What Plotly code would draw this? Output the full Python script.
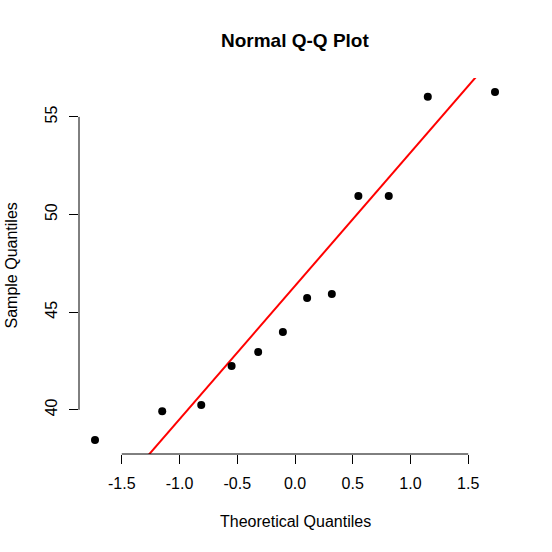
import plotly.graph_objects as go
from statistics import NormalDist
import numpy as np

# Data
theoretical = [-1.732, -1.150, -0.812, -0.549, -0.319, -0.105,
               0.105, 0.319, 0.549, 0.812, 1.150, 1.732]
sample = [38.45, 39.93, 40.24, 42.24, 42.96, 43.98,
          45.72, 45.93, 50.95, 50.95, 56.03, 56.28]
x_ticks = [-1.5, -1.0, -0.5, 0.0, 0.5, 1.0, 1.5]
x_tick_labels = ["-1.5", "-1.0", "-0.5", "0.0", "0.5", "1.0", "1.5"]
y_ticks = [40, 45, 50, 55]
y_tick_labels = ["40", "45", "50", "55"]

# qqline through 1st and 3rd quartiles
q1, q3 = np.quantile(sample, [0.25, 0.75])
z1, z3 = NormalDist().inv_cdf(0.25), NormalDist().inv_cdf(0.75)
slope = (q3 - q1) / (z3 - z1)
intercept = q1 - slope * z1

# R-style 4% axis extension
def ext(vals):
    lo, hi = min(vals), max(vals)
    d = (hi - lo) * 0.04
    return [lo - d, hi + d]

xr = ext(theoretical)
yr = ext(sample)
line_x = [xr[0] - 1, xr[1] + 1]
line_y = [intercept + slope * v for v in line_x]

FONT = "Liberation Sans, Arial, sans-serif"

fig = go.Figure()
fig.add_trace(go.Scatter(x=line_x, y=line_y, mode="lines",
                         line=dict(color="#FF0000", width=2),
                         hoverinfo="skip", showlegend=False))
fig.add_trace(go.Scatter(x=theoretical, y=sample, mode="markers",
                         marker=dict(color="black", size=8),
                         showlegend=False))

fig.update_layout(
    width=552, height=552,
    margin=dict(l=79, r=41, t=78, b=98),
    paper_bgcolor="white", plot_bgcolor="white",
    font=dict(family=FONT, size=16, color="black"),
    showlegend=False,
    xaxis=dict(range=xr, tickvals=x_ticks, ticktext=x_tick_labels,
               ticks="outside", ticklen=9, tickwidth=1, tickcolor="black",
               showgrid=False, zeroline=False, showline=False,
               ticklabelstandoff=6,
               tickfont=dict(family=FONT, size=16, color="black")),
    yaxis=dict(range=yr, tickvals=y_ticks, ticktext=y_tick_labels,
               ticks="outside", ticklen=9, tickwidth=1, tickcolor="black",
               showgrid=False, zeroline=False, showline=False,
               tickangle=-90, ticklabelstandoff=6,
               tickfont=dict(family=FONT, size=16, color="black")),
    shapes=[
        dict(type="line", xref="x", yref="paper", x0=x_ticks[0], x1=x_ticks[-1],
             y0=0, y1=0, line=dict(color="black", width=1)),
        dict(type="line", xref="paper", yref="y", x0=0, x1=0,
             y0=y_ticks[0], y1=y_ticks[-1], line=dict(color="black", width=1)),
    ],
    annotations=[
        dict(text="<b>Normal Q-Q Plot</b>", xref="paper", yref="paper",
             x=0.5, y=1, yshift=50, showarrow=False,
             font=dict(family=FONT, size=19, color="black")),
        dict(text="Theoretical Quantiles", xref="paper", yref="paper",
             x=0.5, y=0, yshift=-78, showarrow=False,
             font=dict(family=FONT, size=16, color="black")),
        dict(text="Sample Quantiles", xref="paper", yref="paper",
             x=0, y=0.5, xshift=-79, textangle=-90, showarrow=False,
             font=dict(family=FONT, size=16, color="black")),
    ],
)
fig.write_html("out.html")
